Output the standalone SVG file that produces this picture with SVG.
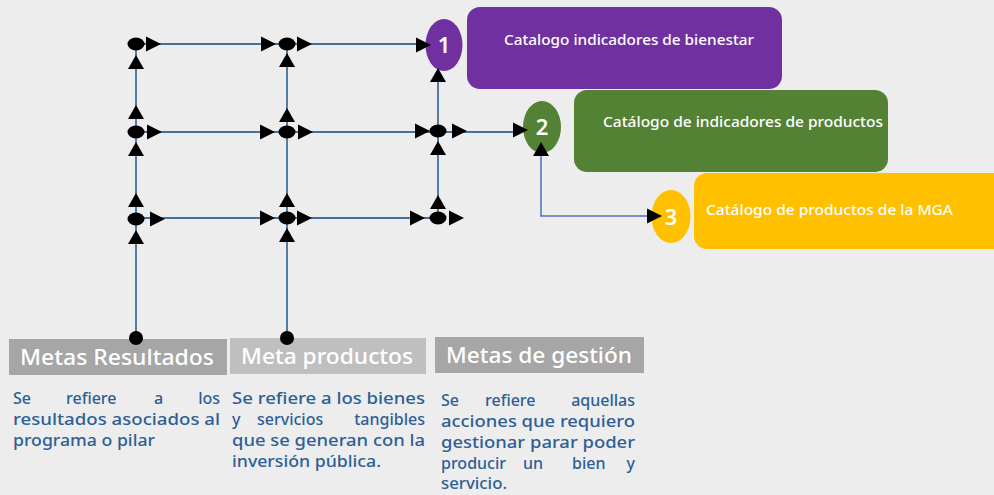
<svg xmlns="http://www.w3.org/2000/svg" width="994" height="495" viewBox="0 0 994 495" xmlns:xlink="http://www.w3.org/1999/xlink">
<defs>
<style>
.ln{stroke:#41719C;stroke-width:1.8;fill:none}
.ln2{stroke:#4472C4;stroke-width:1.5;fill:none}
.blk{fill:#000}
.num{font-family:"Noto Sans","Open Sans",sans-serif;font-size:22px;font-weight:600;fill:#fff;text-anchor:middle}
.cat{font-family:"Noto Sans","Open Sans",sans-serif;font-size:14px;font-weight:500;fill:#fff}
.hdr{font-family:"Noto Sans","Open Sans",sans-serif;font-size:22px;font-weight:500;fill:#fff}
.dsc{font-family:"Noto Sans","Open Sans",sans-serif;font-size:16px;font-weight:500;fill:#2D5F96}
.end{text-anchor:end}
</style>
<path id="tr" d="M-15,-7.5 L0,0 L-15,7.5 Z"/>
<path id="tu" d="M-8,14 L0,0 L8,14 Z"/>
<ellipse id="dt" cx="0" cy="0" rx="8.5" ry="6.5"/>
</defs>
<rect width="994" height="495" fill="#EDEDED"/>

<g id="box1">
<rect x="467" y="7" width="315" height="82" rx="13" fill="#7030A0"/>
<text class="cat" x="504" y="45" textLength="250" lengthAdjust="spacingAndGlyphs">Catalogo indicadores de bienestar</text>
</g>
<g id="box2">
<rect x="574" y="90" width="314" height="82" rx="13" fill="#548235"/>
<text class="cat" x="603" y="127" textLength="280" lengthAdjust="spacingAndGlyphs">Catálogo de indicadores de productos</text>
</g>
<g id="box3">
<rect x="694" y="173" width="320" height="76" rx="13" fill="#FFC000"/>
<text class="cat" x="706" y="215" textLength="247" lengthAdjust="spacingAndGlyphs">Catálogo de productos de la MGA</text>
</g>
<g id="circle1">
<ellipse cx="444" cy="45" rx="18.5" ry="26" fill="#7030A0"/>
<text class="num" x="444" y="53">1</text>
</g>
<g id="circle2">
<ellipse cx="542" cy="127" rx="19" ry="26" fill="#548235"/>
<text class="num" x="542" y="135">2</text>
</g>
<g id="circle3">
<ellipse cx="671" cy="216.5" rx="19.5" ry="26.5" fill="#FFC000"/>
<text class="num" x="671" y="225">3</text>
</g>

<g id="metas-resultados">
<rect x="9" y="339" width="218" height="36" fill="#A6A6A6"/>
<text class="hdr" x="20" y="365" textLength="194" lengthAdjust="spacingAndGlyphs">Metas Resultados</text>
<text class="dsc" x="13" y="404">Se</text>
<text class="dsc" x="66" y="404">refiere</text>
<text class="dsc" x="154" y="404">a</text>
<text class="dsc end" x="220" y="404">los</text>
<text class="dsc" x="13" y="425" textLength="207" lengthAdjust="spacingAndGlyphs">resultados asociados al</text>
<text class="dsc" x="13" y="446" textLength="142" lengthAdjust="spacingAndGlyphs">programa o pilar</text>
</g>
<g id="meta-productos">
<rect x="230" y="338" width="196" height="36" fill="#BFBFBF"/>
<text class="hdr" x="241" y="364" textLength="172" lengthAdjust="spacingAndGlyphs">Meta productos</text>
<text class="dsc" x="232" y="404" textLength="193" lengthAdjust="spacingAndGlyphs">Se refiere a los bienes</text>
<text class="dsc" x="232" y="425">y</text>
<text class="dsc" x="257" y="425">servicios</text>
<text class="dsc end" x="425" y="425">tangibles</text>
<text class="dsc" x="232" y="446" textLength="193" lengthAdjust="spacingAndGlyphs">que se generan con la</text>
<text class="dsc" x="232" y="467" textLength="149" lengthAdjust="spacingAndGlyphs">inversión pública.</text>
</g>
<g id="metas-gestion">
<rect x="435" y="337" width="209" height="36" fill="#A6A6A6"/>
<text class="hdr" x="446" y="363" textLength="186" lengthAdjust="spacingAndGlyphs">Metas de gestión</text>
<text class="dsc" x="441" y="406">Se</text>
<text class="dsc" x="485" y="406">refiere</text>
<text class="dsc end" x="635" y="406">aquellas</text>
<text class="dsc" x="441" y="427" textLength="194" lengthAdjust="spacingAndGlyphs">acciones que requiero</text>
<text class="dsc" x="441" y="448" textLength="194" lengthAdjust="spacingAndGlyphs">gestionar parar poder</text>
<text class="dsc" x="441" y="469">producir</text>
<text class="dsc" x="523" y="469">un</text>
<text class="dsc" x="572" y="469">bien</text>
<text class="dsc end" x="635" y="469">y</text>
<text class="dsc" x="441" y="489" textLength="66" lengthAdjust="spacingAndGlyphs">servicio.</text>
</g>

<g id="connectors">
<line class="ln" x1="136" y1="44" x2="136" y2="338"/>
<line class="ln" x1="287" y1="44" x2="287" y2="338"/>
<line class="ln" x1="438" y1="80" x2="438" y2="218"/>
<line class="ln" x1="136" y1="44" x2="425" y2="44"/>
<line class="ln" x1="136" y1="132" x2="520" y2="132"/>
<line class="ln" x1="136" y1="218" x2="438" y2="218"/>
<path class="ln2" d="M541,152 V216 H655"/>
<g class="blk">
<use xlink:href="#dt" x="136" y="44"/>
<use xlink:href="#tr" x="161" y="44"/>
<use xlink:href="#tr" x="276" y="44"/>
<use xlink:href="#dt" x="287" y="44"/>
<use xlink:href="#tr" x="312" y="44"/>
<use xlink:href="#tr" x="431" y="45"/>
<use xlink:href="#dt" x="136" y="132"/>
<use xlink:href="#tr" x="162" y="132"/>
<use xlink:href="#tr" x="275" y="132"/>
<use xlink:href="#dt" x="287" y="132"/>
<use xlink:href="#tr" x="313" y="132"/>
<use xlink:href="#tr" x="430" y="131"/>
<use xlink:href="#dt" x="438" y="131"/>
<use xlink:href="#tr" x="467" y="131"/>
<use xlink:href="#tr" x="528" y="130"/>
<use xlink:href="#dt" x="136" y="219"/>
<use xlink:href="#tr" x="165" y="219"/>
<use xlink:href="#tr" x="275" y="218"/>
<use xlink:href="#dt" x="287" y="218"/>
<use xlink:href="#tr" x="312" y="218"/>
<use xlink:href="#tr" x="425" y="218"/>
<use xlink:href="#dt" x="438" y="218"/>
<use xlink:href="#tr" x="464" y="218"/>
<use xlink:href="#tu" x="136" y="55"/>
<use xlink:href="#tu" x="136" y="105"/>
<use xlink:href="#tu" x="136" y="142"/>
<use xlink:href="#tu" x="136" y="193"/>
<use xlink:href="#tu" x="136" y="230"/>
<use xlink:href="#tu" x="287" y="53"/>
<use xlink:href="#tu" x="287" y="108"/>
<use xlink:href="#tu" x="287" y="193"/>
<use xlink:href="#tu" x="287" y="228"/>
<use xlink:href="#tu" x="438" y="68"/>
<use xlink:href="#tu" x="438" y="141"/>
<use xlink:href="#tu" x="438" y="195"/>
<use xlink:href="#tu" x="541" y="142"/>
<use xlink:href="#tr" x="662" y="216"/>
<ellipse cx="136" cy="338" rx="7" ry="7"/>
<ellipse cx="287" cy="338" rx="7" ry="7"/>
</g>
</g>
</svg>
